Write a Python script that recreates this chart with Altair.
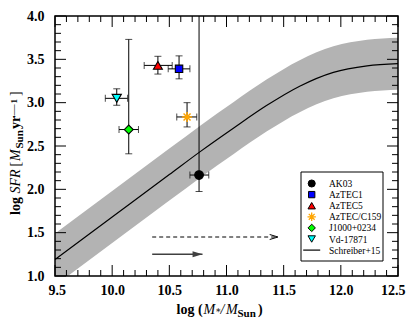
import altair as alt
import pandas as pd

# ---------------- data ----------------
names = ["AK03", "AzTEC1", "AzTEC5", "AzTEC/C159", "J1000+0234", "Vd-17871"]
log_mass = [10.76, 10.585, 10.40, 10.655, 10.145, 10.04]
log_mass_lo = [10.68, 10.49, 10.28, 10.565, 10.06, 9.94]
log_mass_hi = [10.845, 10.68, 10.525, 10.74, 10.23, 10.135]
log_sfr = [2.165, 3.39, 3.43, 2.835, 2.69, 3.05]
log_sfr_lo = [1.975, 3.275, 3.33, 2.72, 2.41, 2.97]
log_sfr_hi = [4.5, 3.54, 3.535, 3.0, 3.73, 3.16]

ms_mass = [9.5, 10.0, 10.5, 10.77, 11.06, 11.35, 11.64, 11.935, 12.23, 12.5]
ms_sfr = [1.19, 1.68, 2.17, 2.435, 2.705, 2.966, 3.19, 3.35, 3.425, 3.45]
ms_sfr_lo = [0.89, 1.38, 1.87, 2.135, 2.405, 2.666, 2.89, 3.05, 3.125, 3.15]
ms_sfr_hi = [1.49, 1.98, 2.47, 2.735, 3.005, 3.266, 3.49, 3.65, 3.725, 3.75]

arrow_solid_x = [10.35, 10.79]
arrow_solid_y = [1.25, 1.25]
arrow_dash_x = [10.35, 11.45]
arrow_dash_y = [1.45, 1.45]

x_major = [9.5, 10.0, 10.5, 11.0, 11.5, 12.0, 12.5]
y_major = [1.0, 1.5, 2.0, 2.5, 3.0, 3.5, 4.0]

legend_names = names + ["Schreiber+15"]
STAR = "M0,-1L0,1M-1,0L1,0M-0.7,-0.7L0.7,0.7M-0.7,0.7L0.7,-0.7"
shapes = ["circle", "square", "triangle-up", STAR, "diamond", "triangle-down"]
fills = ["#000000", "#0000ff", "#ff0000", "transparent", "#00ff00", "#00ffff"]
strokes = ["#000000", "#000000", "#000000", "#ffa500", "#000000", "#000000"]
sizes = [75, 55, 80, 100, 80, 85]
legend_sizes = [50, 40, 55, 70, 55, 55]

# ---------------- layout ----------------
W, H = 343, 260
SERIF = "Liberation Serif"

xs = alt.Scale(domain=[9.5, 12.5], nice=False, zero=False)
ys = alt.Scale(domain=[1.0, 4.0], nice=False, zero=False)
xaxis = alt.Axis(title=None, values=x_major, format=".1f", grid=False, domain=False,
                 ticks=False, tickSize=0, labelPadding=7, labelFlush=1,
                 labelFlushOffset=7,
                 labelFont=SERIF, labelFontWeight="bold", labelFontSize=14,
                 labelColor="black", labelOverlap=False)
yaxis = alt.Axis(title=None, values=y_major, format=".1f", grid=False, domain=False,
                 ticks=False, tickSize=0, labelPadding=11, labelFlush=False,
                 labelFont=SERIF, labelFontWeight="bold", labelFontSize=14,
                 labelColor="black", labelOverlap=False)


def X(f):
    return alt.X(f, type="quantitative", scale=xs, axis=xaxis)


def Y(f):
    return alt.Y(f, type="quantitative", scale=ys, axis=yaxis)


pts = pd.DataFrame({"name": names, "m": log_mass, "mlo": log_mass_lo, "mhi": log_mass_hi,
                    "s": log_sfr, "slo": log_sfr_lo, "shi": log_sfr_hi})
ms = pd.DataFrame({"m": ms_mass, "s": ms_sfr, "lo": ms_sfr_lo, "hi": ms_sfr_hi})

band = alt.Chart(ms).mark_area(color="#b3b3b3", interpolate="monotone", clip=True).encode(
    x=X("m"), y=Y("lo"), y2="hi")
curve = alt.Chart(ms).mark_line(color="black", strokeWidth=1.2, interpolate="monotone",
                                clip=True).encode(x=X("m"), y=Y("s"))

errx = alt.Chart(pts).mark_rule(color="black", strokeWidth=1, clip=True).encode(
    x=X("mlo"), x2="mhi", y=Y("s"))
erry = alt.Chart(pts).mark_rule(color="black", strokeWidth=1, clip=True).encode(
    x=X("m"), y=Y("slo"), y2="shi")
cap_xlo = alt.Chart(pts).mark_tick(color="black", orient="vertical", size=7, thickness=1,
                                   clip=True).encode(x=X("mlo"), y=Y("s"))
cap_xhi = alt.Chart(pts).mark_tick(color="black", orient="vertical", size=7, thickness=1,
                                   clip=True).encode(x=X("mhi"), y=Y("s"))
cap_ylo = alt.Chart(pts).mark_tick(color="black", orient="horizontal", size=7, thickness=1,
                                   clip=True).encode(x=X("m"), y=Y("slo"))
cap_yhi = alt.Chart(pts).mark_tick(color="black", orient="horizontal", size=7, thickness=1,
                                   clip=True).encode(x=X("m"), y=Y("shi"))

point_layers = []
for i, nm in enumerate(names):
    d = pts[pts["name"] == nm]
    point_layers.append(
        alt.Chart(d).mark_point(shape=shapes[i], fill=fills[i], stroke=strokes[i],
                                size=sizes[i], opacity=1, fillOpacity=1,
                                strokeWidth=1.5 if i == 3 else 1.1).encode(
            x=X("m"), y=Y("s")))

arr_s = pd.DataFrame({"m": arrow_solid_x, "s": arrow_solid_y})
arr_d = pd.DataFrame({"m": arrow_dash_x, "s": arrow_dash_y})
solid_line = alt.Chart(arr_s).mark_line(color="#404040", strokeWidth=1.5).encode(
    x=X("m"), y=Y("s"))
solid_head = alt.Chart(arr_s.tail(1)).mark_point(
    shape="M0,0L-3.3,-1L-3.3,1Z", size=36, filled=True, color="#404040", opacity=1
).encode(x=X("m"), y=Y("s"))
dash_line = alt.Chart(arr_d).mark_line(color="black", strokeWidth=1, strokeDash=[4, 3]).encode(
    x=X("m"), y=Y("s"))
dash_head = alt.Chart(arr_d.tail(1)).mark_point(
    shape="M-3.3,-1L0,0L-3.3,1", size=25, filled=False, color="black", strokeWidth=1, opacity=1
).encode(x=X("m"), y=Y("s"))

# ---------------- inward ticks on all four sides ----------------
x_minor = [round(9.5 + 0.1 * i, 2) for i in range(31)]
x_minor = [v for v in x_minor if round(v * 2) != v * 2]
y_minor = [round(1.0 + 0.1 * i, 2) for i in range(31)]
y_minor = [v for v in y_minor if round(v * 2) != v * 2]
MAJ, MIN = 11, 6


def xticks(vals, ln):
    d = pd.DataFrame({"v": vals})
    b = alt.Chart(d).mark_rule(color="black", strokeWidth=1).encode(
        x=X("v"), y=alt.value(H), y2=alt.value(H - ln))
    t = alt.Chart(d).mark_rule(color="black", strokeWidth=1).encode(
        x=X("v"), y=alt.value(0), y2=alt.value(ln))
    return [b, t]


def yticks(vals, ln):
    d = pd.DataFrame({"v": vals})
    l = alt.Chart(d).mark_rule(color="black", strokeWidth=1).encode(
        y=Y("v"), x=alt.value(0), x2=alt.value(ln))
    r = alt.Chart(d).mark_rule(color="black", strokeWidth=1).encode(
        y=Y("v"), x=alt.value(W), x2=alt.value(W - ln))
    return [l, r]


tick_layers = xticks(x_major, MAJ) + xticks(x_minor, MIN) + yticks(y_major, MAJ) + yticks(y_minor, MIN)

one = pd.DataFrame({"a": [0]})
frame = alt.Chart(one).mark_rect(
    fill="white", fillOpacity=0, stroke="black", strokeWidth=1.5).encode(
    x=alt.value(0), x2=alt.value(W), y=alt.value(0), y2=alt.value(H))


# ---------------- text helper ----------------
def txt(s, x, y, size=14, weight="bold", style="normal", angle=0, font=SERIF,
        baseline="alphabetic"):
    return alt.Chart(pd.DataFrame({"t": [s]})).mark_text(
        align="left", baseline=baseline, font=font, fontSize=size, fontWeight=weight,
        fontStyle=style, angle=angle, color="black").encode(
        text="t:N", x=alt.value(x), y=alt.value(y))


# ---------------- manual legend ----------------
LX0, LX1, LY0, LY1 = 246, 328, 156, 245
ROW0, ROWH = 167.5, 11.1
SYMX, LABX = 256.7, 274
legend_layers = [alt.Chart(one).mark_rect(fill="white", stroke="black", strokeWidth=1).encode(
    x=alt.value(LX0), x2=alt.value(LX1), y=alt.value(LY0), y2=alt.value(LY1))]
for i, nm in enumerate(legend_names):
    ry = ROW0 + i * ROWH
    if i < len(names):
        legend_layers.append(
            alt.Chart(one).mark_point(shape=shapes[i], fill=fills[i], stroke=strokes[i],
                                      size=legend_sizes[i], opacity=1, fillOpacity=1,
                                      strokeWidth=1.3 if i == 3 else 1).encode(
                x=alt.value(SYMX), y=alt.value(ry)))
    else:
        legend_layers.append(
            alt.Chart(one).mark_rule(color="black", strokeWidth=1.2).encode(
                x=alt.value(SYMX - 8.5), x2=alt.value(SYMX + 8.5), y=alt.value(ry)))
    legend_layers.append(txt(nm, LABX, ry + 0.5, size=9.5, weight="normal", baseline="middle"))

# ---------------- rich-text axis titles ----------------
XB = 297.5
xt = [
    txt("log", 121.5, XB),
    txt("(", 143, XB),
    txt("M", 148.5, XB, weight="normal", style="italic"),
    txt("\u2217", 160, XB - 1, size=9, weight="normal", font="DejaVu Serif"),
    txt("/", 165.5, XB, weight="normal", style="italic"),
    txt("M", 171, XB, weight="normal", style="italic"),
    txt("Sun", 182.5, XB + 3, size=11),
    txt(")", 203, XB),
]
YB = -35
yt = [
    txt("log", YB, 199, angle=270),
    txt("SFR", YB, 177.5, weight="normal", style="italic", angle=270),
    txt("[", YB, 150.5, weight="normal", angle=270),
    txt("M", YB, 145, weight="normal", style="italic", angle=270),
    txt("Sun", YB + 3, 132.5, size=11, angle=270),
    txt("yr", YB, 113, angle=270),
    txt("\u2014", YB - 3, 99.5, size=11, weight="normal", angle=270),
    txt("1", YB - 3, 87.5, size=9, angle=270),
    txt("]", YB, 80, weight="normal", angle=270),
]

chart = alt.layer(
    band, curve, errx, erry, cap_xlo, cap_xhi, cap_ylo, cap_yhi, *point_layers,
    dash_line, dash_head, solid_line, solid_head, *tick_layers, frame,
    *legend_layers, *xt, *yt
).properties(
    width=W, height=H,
    autosize=alt.AutoSizeParams(type="none"),
    padding={"left": 47, "top": 8, "right": 9, "bottom": 48},
).configure_view(
    strokeWidth=0
)

chart.save("out.html", embed_options={"renderer": "svg", "actions": False})
